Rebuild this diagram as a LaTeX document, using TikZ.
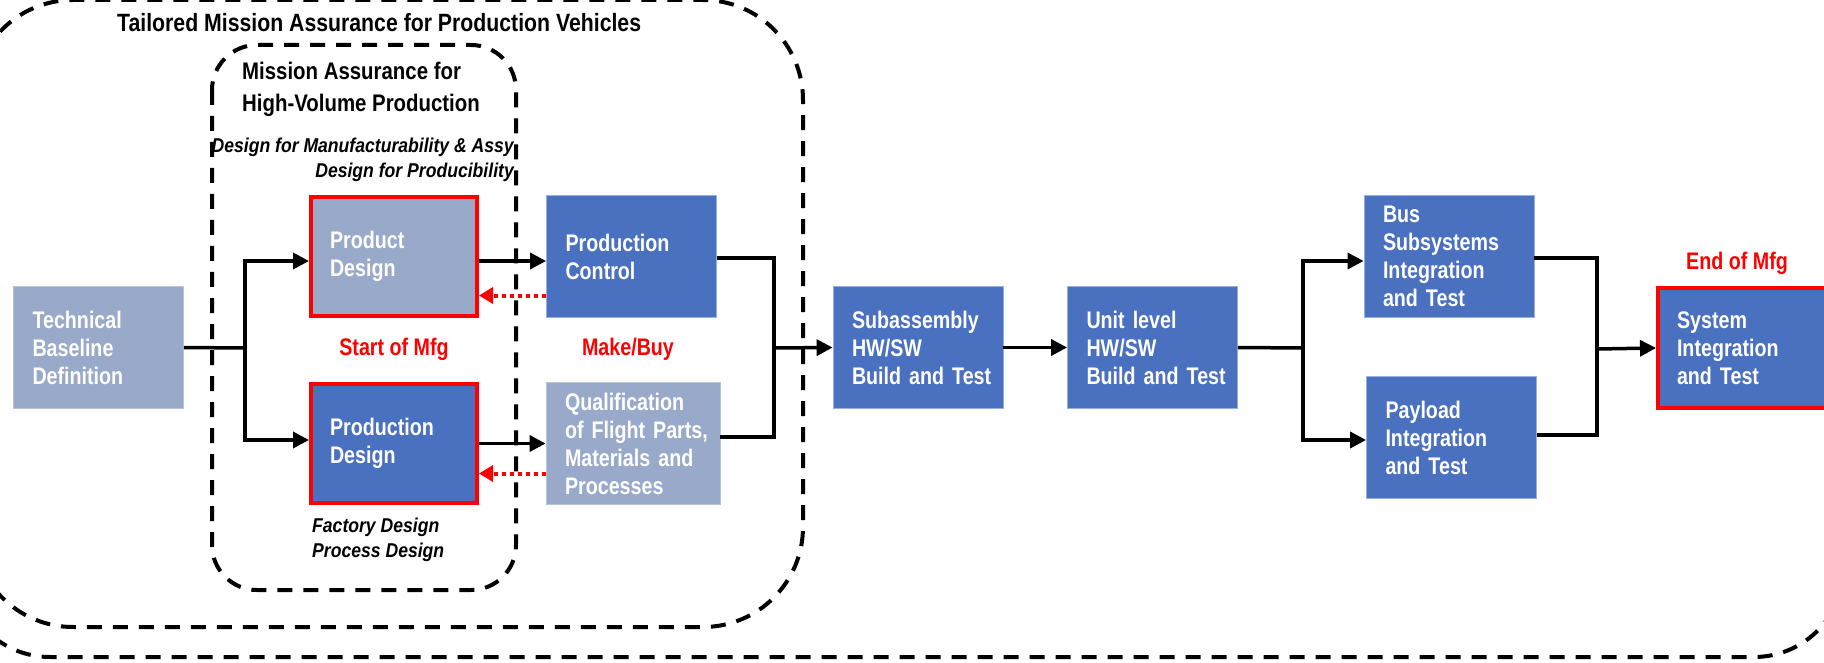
\documentclass[tikz,border=0pt]{standalone}
\usepackage{fontspec}
\setmainfont{Liberation Sans}[FakeStretch=0.82]
\newfontfamily\headfont{Liberation Sans}[FakeStretch=0.85]
\newfontfamily\notefont{Liberation Sans}[FakeStretch=0.88]
\usetikzlibrary{arrows.meta}
\definecolor{boxblue}{RGB}{74,112,192}
\definecolor{boxgrey}{RGB}{152,169,202}
\definecolor{boxedge}{RGB}{150,175,225}
\definecolor{mfgred}{RGB}{255,0,0}

\begin{document}
\begin{tikzpicture}[x=1pt,y=-1pt,
  blk/.style={text=white, font=\bfseries\fontsize{24}{28}\selectfont, align=left,
    text width=132pt, inner xsep=19pt, inner ysep=0pt,
    minimum width=170pt, minimum height=122pt},
  bluebox/.style={blk, fill=boxblue, draw=boxedge, line width=0.8pt},
  greybox/.style={blk, fill=boxgrey, draw=boxgrey!70!white, line width=0.8pt},
  redframe/.style={draw=mfgred, line width=4pt, minimum width=166pt,
    minimum height=119pt, text width=128pt},
  dashbox/.style={line width=4pt, dash pattern=on 15pt off 11pt},
  conn/.style={line width=3.5pt},
  arr/.style={conn, -{Triangle[length=16pt,width=16pt]}},
  backarr/.style={draw=mfgred, line width=4pt, dash pattern=on 4pt off 4pt,
    -{Triangle[length=14pt,width=16pt]}},
  redlabel/.style={text=mfgred, font=\bfseries\fontsize{24}{28}\selectfont},
  note/.style={font=\notefont\bfseries\itshape\fontsize{20}{25}\selectfont, inner sep=0pt},
]
\useasboundingbox (0,0) rectangle (1824,663);

% dashed groupings
\draw[dashbox, rounded corners=90pt] (-40,-300) rectangle (1844,657);
\draw[dashbox, rounded corners=100pt] (-27,0) rectangle (803,627);
\draw[dashbox, rounded corners=45pt] (212,45) rectangle (516,590);

% headings
\node[anchor=west, inner sep=0pt, font=\headfont\bfseries\fontsize{25}{28}\selectfont] (ttl) at (117,23)
  {Tailored Mission Assurance for Production Vehicles};
\node[anchor=west, inner sep=0pt, align=left, font=\headfont\bfseries\fontsize{24}{32}\selectfont] (mah) at (242,89)
  {Mission Assurance for\\High-Volume Production};
\node[note, anchor=east, align=right] (dfm) at (514,160)
  {Design for Manufacturability \& Assy\\Design for Producibility};
\node[note, anchor=west, align=left] (fd) at (312,540)
  {Factory Design\\Process Design};

% process blocks
\node[greybox] (tech) at (98.5,347.5) {Technical\\Baseline\\Definition};
\node[greybox, redframe] (pd) at (394,256.5) {Product\\Design};
\node[bluebox, redframe] (prd) at (394,443.5) {Production\\Design};
\node[bluebox] (pc) at (631.5,256.5) {Production\\Control};
\node[greybox, minimum width=174pt, text width=136pt] (q) at (633,443.5)
  {Qualification\\of~Flight~Parts,\\Materials~and\\Processes};
\node[bluebox] (sub) at (918,347.5) {Subassembly\\HW/SW\\Build~and~Test};
\node[bluebox] (unit) at (1152.5,347.5) {Unit~level\\HW/SW\\Build~and~Test};
\node[bluebox] (bus) at (1449,256) {Bus\\Subsystems\\Integration\\and~Test};
\node[bluebox] (pay) at (1451.5,437.5) {Payload\\Integration\\and~Test};
\node[bluebox, redframe, minimum width=181pt, minimum height=120pt, text width=143pt] (sys)
  at (1748.5,348) {System\\Integration\\and~Test};

% milestone labels
\node[redlabel] (som) at (394,349) {Start of Mfg};
\node[redlabel] (mb) at (628,349) {Make/Buy};
\node[redlabel] (eom) at (1737,263) {End of Mfg};

% branch points
\coordinate (j1) at (245,348);
\coordinate (j2) at (774,348);
\coordinate (j3) at (1303,348);
\coordinate (j4) at (1597,349);

% connectors
\draw[conn] (tech.east) -- (j1);
\draw[arr] (j1) |- ([yshift=-4.5pt]pd.west);
\draw[arr] (j1) |- ([yshift=3.5pt]prd.west);
\draw[arr] ([yshift=-4.5pt]pd.east) -- ([yshift=-4.5pt]pc.west);
\draw[arr] (prd.east) -- (q.west);
\draw[backarr] ([yshift=-39pt]pc.west) -- ([yshift=-39pt]pd.east);
\draw[backarr] ([yshift=-30pt]q.west) -- ([yshift=-30pt]prd.east);
\draw[conn] ([yshift=-1.5pt]pc.east) -| (j2) |- ([yshift=6.5pt]q.east);
\draw[arr] (j2) -- (sub.west);
\draw[arr] (sub.east) -- (unit.west);
\draw[conn] (unit.east) -- (j3);
\draw[arr] (j3) |- ([yshift=-5pt]bus.west);
\draw[arr] (j3) |- ([yshift=-2.5pt]pay.west);
\draw[conn] ([yshift=-2pt]bus.east) -| (j4) |- ([yshift=2.5pt]pay.east);
\draw[arr] (j4) -- (sys.west);
\end{tikzpicture}
\end{document}
